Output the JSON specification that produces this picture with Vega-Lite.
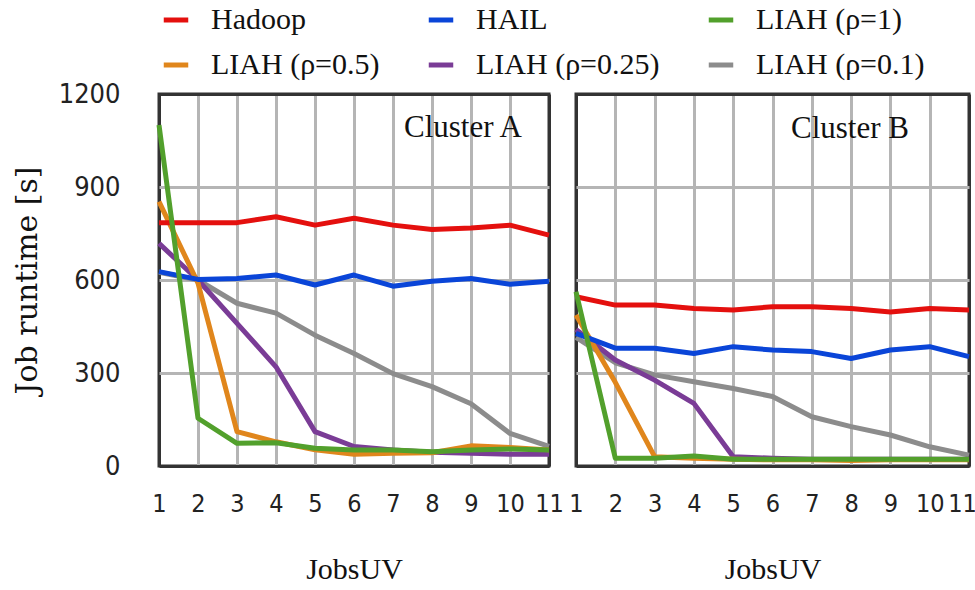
{
  "$schema": "https://vega.github.io/schema/vega-lite/v6.json",
  "padding": {"left": 10, "top": 5, "right": 2, "bottom": 5},
  "background": "white",
  "bounds": "flush",
  "spacing": 27,
  "datasets": {
    "runs": [
      {"cluster": "A", "series": "LIAH (ρ=0.1)", "jobs": 1, "runtime": 625},
      {"cluster": "A", "series": "LIAH (ρ=0.1)", "jobs": 2, "runtime": 600},
      {"cluster": "A", "series": "LIAH (ρ=0.1)", "jobs": 3, "runtime": 525},
      {"cluster": "A", "series": "LIAH (ρ=0.1)", "jobs": 4, "runtime": 493},
      {"cluster": "A", "series": "LIAH (ρ=0.1)", "jobs": 5, "runtime": 422},
      {"cluster": "A", "series": "LIAH (ρ=0.1)", "jobs": 6, "runtime": 363},
      {"cluster": "A", "series": "LIAH (ρ=0.1)", "jobs": 7, "runtime": 298},
      {"cluster": "A", "series": "LIAH (ρ=0.1)", "jobs": 8, "runtime": 256},
      {"cluster": "A", "series": "LIAH (ρ=0.1)", "jobs": 9, "runtime": 201},
      {"cluster": "A", "series": "LIAH (ρ=0.1)", "jobs": 10, "runtime": 105},
      {"cluster": "A", "series": "LIAH (ρ=0.1)", "jobs": 11, "runtime": 63},
      {"cluster": "A", "series": "LIAH (ρ=0.25)", "jobs": 1, "runtime": 718},
      {"cluster": "A", "series": "LIAH (ρ=0.25)", "jobs": 2, "runtime": 600},
      {"cluster": "A", "series": "LIAH (ρ=0.25)", "jobs": 3, "runtime": 460},
      {"cluster": "A", "series": "LIAH (ρ=0.25)", "jobs": 4, "runtime": 320},
      {"cluster": "A", "series": "LIAH (ρ=0.25)", "jobs": 5, "runtime": 111},
      {"cluster": "A", "series": "LIAH (ρ=0.25)", "jobs": 6, "runtime": 63},
      {"cluster": "A", "series": "LIAH (ρ=0.25)", "jobs": 7, "runtime": 52},
      {"cluster": "A", "series": "LIAH (ρ=0.25)", "jobs": 8, "runtime": 44},
      {"cluster": "A", "series": "LIAH (ρ=0.25)", "jobs": 9, "runtime": 41},
      {"cluster": "A", "series": "LIAH (ρ=0.25)", "jobs": 10, "runtime": 38},
      {"cluster": "A", "series": "LIAH (ρ=0.25)", "jobs": 11, "runtime": 38},
      {"cluster": "A", "series": "LIAH (ρ=0.5)", "jobs": 1, "runtime": 853},
      {"cluster": "A", "series": "LIAH (ρ=0.5)", "jobs": 2, "runtime": 590},
      {"cluster": "A", "series": "LIAH (ρ=0.5)", "jobs": 3, "runtime": 111},
      {"cluster": "A", "series": "LIAH (ρ=0.5)", "jobs": 4, "runtime": 78},
      {"cluster": "A", "series": "LIAH (ρ=0.5)", "jobs": 5, "runtime": 52},
      {"cluster": "A", "series": "LIAH (ρ=0.5)", "jobs": 6, "runtime": 38},
      {"cluster": "A", "series": "LIAH (ρ=0.5)", "jobs": 7, "runtime": 41},
      {"cluster": "A", "series": "LIAH (ρ=0.5)", "jobs": 8, "runtime": 43},
      {"cluster": "A", "series": "LIAH (ρ=0.5)", "jobs": 9, "runtime": 65},
      {"cluster": "A", "series": "LIAH (ρ=0.5)", "jobs": 10, "runtime": 60},
      {"cluster": "A", "series": "LIAH (ρ=0.5)", "jobs": 11, "runtime": 52},
      {"cluster": "A", "series": "HAIL", "jobs": 1, "runtime": 627},
      {"cluster": "A", "series": "HAIL", "jobs": 2, "runtime": 602},
      {"cluster": "A", "series": "HAIL", "jobs": 3, "runtime": 605},
      {"cluster": "A", "series": "HAIL", "jobs": 4, "runtime": 616},
      {"cluster": "A", "series": "HAIL", "jobs": 5, "runtime": 584},
      {"cluster": "A", "series": "HAIL", "jobs": 6, "runtime": 616},
      {"cluster": "A", "series": "HAIL", "jobs": 7, "runtime": 580},
      {"cluster": "A", "series": "HAIL", "jobs": 8, "runtime": 596},
      {"cluster": "A", "series": "HAIL", "jobs": 9, "runtime": 605},
      {"cluster": "A", "series": "HAIL", "jobs": 10, "runtime": 586},
      {"cluster": "A", "series": "HAIL", "jobs": 11, "runtime": 596},
      {"cluster": "A", "series": "Hadoop", "jobs": 1, "runtime": 785},
      {"cluster": "A", "series": "Hadoop", "jobs": 2, "runtime": 785},
      {"cluster": "A", "series": "Hadoop", "jobs": 3, "runtime": 785},
      {"cluster": "A", "series": "Hadoop", "jobs": 4, "runtime": 804},
      {"cluster": "A", "series": "Hadoop", "jobs": 5, "runtime": 777},
      {"cluster": "A", "series": "Hadoop", "jobs": 6, "runtime": 799},
      {"cluster": "A", "series": "Hadoop", "jobs": 7, "runtime": 777},
      {"cluster": "A", "series": "Hadoop", "jobs": 8, "runtime": 763},
      {"cluster": "A", "series": "Hadoop", "jobs": 9, "runtime": 768},
      {"cluster": "A", "series": "Hadoop", "jobs": 10, "runtime": 777},
      {"cluster": "A", "series": "Hadoop", "jobs": 11, "runtime": 745},
      {"cluster": "A", "series": "LIAH (ρ=1)", "jobs": 1, "runtime": 1100},
      {"cluster": "A", "series": "LIAH (ρ=1)", "jobs": 2, "runtime": 154},
      {"cluster": "A", "series": "LIAH (ρ=1)", "jobs": 3, "runtime": 73},
      {"cluster": "A", "series": "LIAH (ρ=1)", "jobs": 4, "runtime": 75},
      {"cluster": "A", "series": "LIAH (ρ=1)", "jobs": 5, "runtime": 57},
      {"cluster": "A", "series": "LIAH (ρ=1)", "jobs": 6, "runtime": 52},
      {"cluster": "A", "series": "LIAH (ρ=1)", "jobs": 7, "runtime": 52},
      {"cluster": "A", "series": "LIAH (ρ=1)", "jobs": 8, "runtime": 46},
      {"cluster": "A", "series": "LIAH (ρ=1)", "jobs": 9, "runtime": 52},
      {"cluster": "A", "series": "LIAH (ρ=1)", "jobs": 10, "runtime": 55},
      {"cluster": "A", "series": "LIAH (ρ=1)", "jobs": 11, "runtime": 52},
      {"cluster": "B", "series": "LIAH (ρ=0.1)", "jobs": 1, "runtime": 415},
      {"cluster": "B", "series": "LIAH (ρ=0.1)", "jobs": 2, "runtime": 333},
      {"cluster": "B", "series": "LIAH (ρ=0.1)", "jobs": 3, "runtime": 294},
      {"cluster": "B", "series": "LIAH (ρ=0.1)", "jobs": 4, "runtime": 272},
      {"cluster": "B", "series": "LIAH (ρ=0.1)", "jobs": 5, "runtime": 250},
      {"cluster": "B", "series": "LIAH (ρ=0.1)", "jobs": 6, "runtime": 224},
      {"cluster": "B", "series": "LIAH (ρ=0.1)", "jobs": 7, "runtime": 159},
      {"cluster": "B", "series": "LIAH (ρ=0.1)", "jobs": 8, "runtime": 127},
      {"cluster": "B", "series": "LIAH (ρ=0.1)", "jobs": 9, "runtime": 100},
      {"cluster": "B", "series": "LIAH (ρ=0.1)", "jobs": 10, "runtime": 62},
      {"cluster": "B", "series": "LIAH (ρ=0.1)", "jobs": 11, "runtime": 35},
      {"cluster": "B", "series": "LIAH (ρ=0.25)", "jobs": 1, "runtime": 440},
      {"cluster": "B", "series": "LIAH (ρ=0.25)", "jobs": 2, "runtime": 342},
      {"cluster": "B", "series": "LIAH (ρ=0.25)", "jobs": 3, "runtime": 277},
      {"cluster": "B", "series": "LIAH (ρ=0.25)", "jobs": 4, "runtime": 202},
      {"cluster": "B", "series": "LIAH (ρ=0.25)", "jobs": 5, "runtime": 30},
      {"cluster": "B", "series": "LIAH (ρ=0.25)", "jobs": 6, "runtime": 25},
      {"cluster": "B", "series": "LIAH (ρ=0.25)", "jobs": 7, "runtime": 22},
      {"cluster": "B", "series": "LIAH (ρ=0.25)", "jobs": 8, "runtime": 22},
      {"cluster": "B", "series": "LIAH (ρ=0.25)", "jobs": 9, "runtime": 22},
      {"cluster": "B", "series": "LIAH (ρ=0.25)", "jobs": 10, "runtime": 22},
      {"cluster": "B", "series": "LIAH (ρ=0.25)", "jobs": 11, "runtime": 22},
      {"cluster": "B", "series": "LIAH (ρ=0.5)", "jobs": 1, "runtime": 487},
      {"cluster": "B", "series": "LIAH (ρ=0.5)", "jobs": 2, "runtime": 270},
      {"cluster": "B", "series": "LIAH (ρ=0.5)", "jobs": 3, "runtime": 30},
      {"cluster": "B", "series": "LIAH (ρ=0.5)", "jobs": 4, "runtime": 25},
      {"cluster": "B", "series": "LIAH (ρ=0.5)", "jobs": 5, "runtime": 22},
      {"cluster": "B", "series": "LIAH (ρ=0.5)", "jobs": 6, "runtime": 20},
      {"cluster": "B", "series": "LIAH (ρ=0.5)", "jobs": 7, "runtime": 20},
      {"cluster": "B", "series": "LIAH (ρ=0.5)", "jobs": 8, "runtime": 18},
      {"cluster": "B", "series": "LIAH (ρ=0.5)", "jobs": 9, "runtime": 20},
      {"cluster": "B", "series": "LIAH (ρ=0.5)", "jobs": 10, "runtime": 20},
      {"cluster": "B", "series": "LIAH (ρ=0.5)", "jobs": 11, "runtime": 20},
      {"cluster": "B", "series": "HAIL", "jobs": 1, "runtime": 428},
      {"cluster": "B", "series": "HAIL", "jobs": 2, "runtime": 380},
      {"cluster": "B", "series": "HAIL", "jobs": 3, "runtime": 380},
      {"cluster": "B", "series": "HAIL", "jobs": 4, "runtime": 363},
      {"cluster": "B", "series": "HAIL", "jobs": 5, "runtime": 385},
      {"cluster": "B", "series": "HAIL", "jobs": 6, "runtime": 374},
      {"cluster": "B", "series": "HAIL", "jobs": 7, "runtime": 369},
      {"cluster": "B", "series": "HAIL", "jobs": 8, "runtime": 347},
      {"cluster": "B", "series": "HAIL", "jobs": 9, "runtime": 374},
      {"cluster": "B", "series": "HAIL", "jobs": 10, "runtime": 385},
      {"cluster": "B", "series": "HAIL", "jobs": 11, "runtime": 353},
      {"cluster": "B", "series": "Hadoop", "jobs": 1, "runtime": 546},
      {"cluster": "B", "series": "Hadoop", "jobs": 2, "runtime": 519},
      {"cluster": "B", "series": "Hadoop", "jobs": 3, "runtime": 519},
      {"cluster": "B", "series": "Hadoop", "jobs": 4, "runtime": 508},
      {"cluster": "B", "series": "Hadoop", "jobs": 5, "runtime": 503},
      {"cluster": "B", "series": "Hadoop", "jobs": 6, "runtime": 514},
      {"cluster": "B", "series": "Hadoop", "jobs": 7, "runtime": 514},
      {"cluster": "B", "series": "Hadoop", "jobs": 8, "runtime": 508},
      {"cluster": "B", "series": "Hadoop", "jobs": 9, "runtime": 497},
      {"cluster": "B", "series": "Hadoop", "jobs": 10, "runtime": 508},
      {"cluster": "B", "series": "Hadoop", "jobs": 11, "runtime": 503},
      {"cluster": "B", "series": "LIAH (ρ=1)", "jobs": 1, "runtime": 562},
      {"cluster": "B", "series": "LIAH (ρ=1)", "jobs": 2, "runtime": 25},
      {"cluster": "B", "series": "LIAH (ρ=1)", "jobs": 3, "runtime": 25},
      {"cluster": "B", "series": "LIAH (ρ=1)", "jobs": 4, "runtime": 32},
      {"cluster": "B", "series": "LIAH (ρ=1)", "jobs": 5, "runtime": 22},
      {"cluster": "B", "series": "LIAH (ρ=1)", "jobs": 6, "runtime": 22},
      {"cluster": "B", "series": "LIAH (ρ=1)", "jobs": 7, "runtime": 22},
      {"cluster": "B", "series": "LIAH (ρ=1)", "jobs": 8, "runtime": 22},
      {"cluster": "B", "series": "LIAH (ρ=1)", "jobs": 9, "runtime": 22},
      {"cluster": "B", "series": "LIAH (ρ=1)", "jobs": 10, "runtime": 22},
      {"cluster": "B", "series": "LIAH (ρ=1)", "jobs": 11, "runtime": 22}
    ]
  },
  "hconcat": [
    {
      "width": 390,
      "height": 372,
      "data": {"name": "runs"},
      "transform": [{"filter": "datum.cluster === 'A'"}],
      "title": {"text": "Cluster A", "anchor": "end", "frame": "group", "offset": -64, "dx": -27, "font": "Liberation Serif", "fontSize": 31, "fontWeight": "normal", "color": "#111"},
      "mark": {"type": "line", "strokeWidth": 5, "strokeJoin": "round"},
      "encoding": {
        "x": {"field": "jobs", "type": "quantitative", "scale": {"domain": [1, 11], "nice": false, "zero": false},
              "axis": {"values": [1, 2, 3, 4, 5, 6, 7, 8, 9, 10, 11], "format": "d", "title": "JobsUV"}},
        "y": {"field": "runtime", "type": "quantitative", "scale": {"domain": [0, 1200], "nice": false},
              "axis": {"values": [0, 300, 600, 900, 1200], "format": "d", "title": "Job runtime [s]"}},
        "color": {"field": "series", "type": "nominal",
                  "scale": {"domain": ["Hadoop", "HAIL", "LIAH (ρ=1)", "LIAH (ρ=0.5)", "LIAH (ρ=0.25)", "LIAH (ρ=0.1)"],
                            "range": ["#e4100e", "#0a45d8", "#52a02c", "#e0861c", "#7a3c96", "#8c8c8c"]},
                  "legend": {"title": null}}
      }
    },
    {
      "width": 393,
      "height": 372,
      "data": {"name": "runs"},
      "transform": [{"filter": "datum.cluster === 'B'"}],
      "title": {"text": "Cluster B", "anchor": "end", "frame": "group", "offset": -51, "dx": -60, "font": "Liberation Serif", "fontSize": 31, "fontWeight": "normal", "color": "#111"},
      "mark": {"type": "line", "strokeWidth": 5, "strokeJoin": "round"},
      "encoding": {
        "x": {"field": "jobs", "type": "quantitative", "scale": {"domain": [1, 11], "nice": false, "zero": false},
              "axis": {"values": [1, 2, 3, 4, 5, 6, 7, 8, 9, 10, 11], "format": "d", "title": "JobsUV",
                       "labelOffset": {"condition": {"test": "datum.value === 11", "value": -7}, "value": 0}}},
        "y": {"field": "runtime", "type": "quantitative", "scale": {"domain": [0, 1200], "nice": false},
              "axis": {"values": [0, 300, 600, 900, 1200], "labels": false, "title": null}},
        "color": {"field": "series", "type": "nominal",
                  "scale": {"domain": ["Hadoop", "HAIL", "LIAH (ρ=1)", "LIAH (ρ=0.5)", "LIAH (ρ=0.25)", "LIAH (ρ=0.1)"],
                            "range": ["#e4100e", "#0a45d8", "#52a02c", "#e0861c", "#7a3c96", "#8c8c8c"]},
                  "legend": {"title": null}}
      }
    }
  ],
  "resolve": {"scale": {"color": "shared"}},
  "config": {
    "view": {"stroke": "#333", "strokeWidth": 3},
    "axis": {
      "domain": false,
      "ticks": false,
      "grid": true,
      "gridWidth": 3,
      "labelFont": "DejaVu Sans Condensed",
      "labelColor": "#222",
      "titleFontWeight": "normal",
      "titleColor": "#111"
    },
    "axisX": {
      "labelFontSize": 25,
      "labelPadding": 25,
      "titlePadding": 38,
      "titleFont": "Liberation Serif",
      "titleFontSize": 30,
      "labelFlush": false,
      "labelOverlap": false,
      "gridColor": {"condition": {"test": "datum.value === 1 || datum.value === 11", "value": "#333"}, "value": "#b5b5b5"}
    },
    "axisY": {
      "labelFontSize": 27,
      "labelPadding": 39,
      "titlePadding": 16,
      "titleFont": "DejaVu Serif",
      "titleFontSize": 30,
      "labelFlush": false,
      "labelOverlap": false,
      "gridColor": {"condition": {"test": "datum.value === 0 || datum.value === 1200", "value": "#333"}, "value": "#b5b5b5"}
    },
    "legend": {
      "orient": "none",
      "direction": "horizontal",
      "legendX": 2,
      "legendY": -89,
      "columns": 3,
      "columnPadding": 38,
      "rowPadding": 15,
      "gridAlign": "each",
      "labelFont": "Liberation Serif",
      "labelFontSize": 30,
      "labelColor": "#111",
      "labelOffset": 20,
      "labelLimit": 400,
      "symbolType": "stroke",
      "symbolStrokeWidth": 5,
      "symbolSize": 600
    }
  }
}
